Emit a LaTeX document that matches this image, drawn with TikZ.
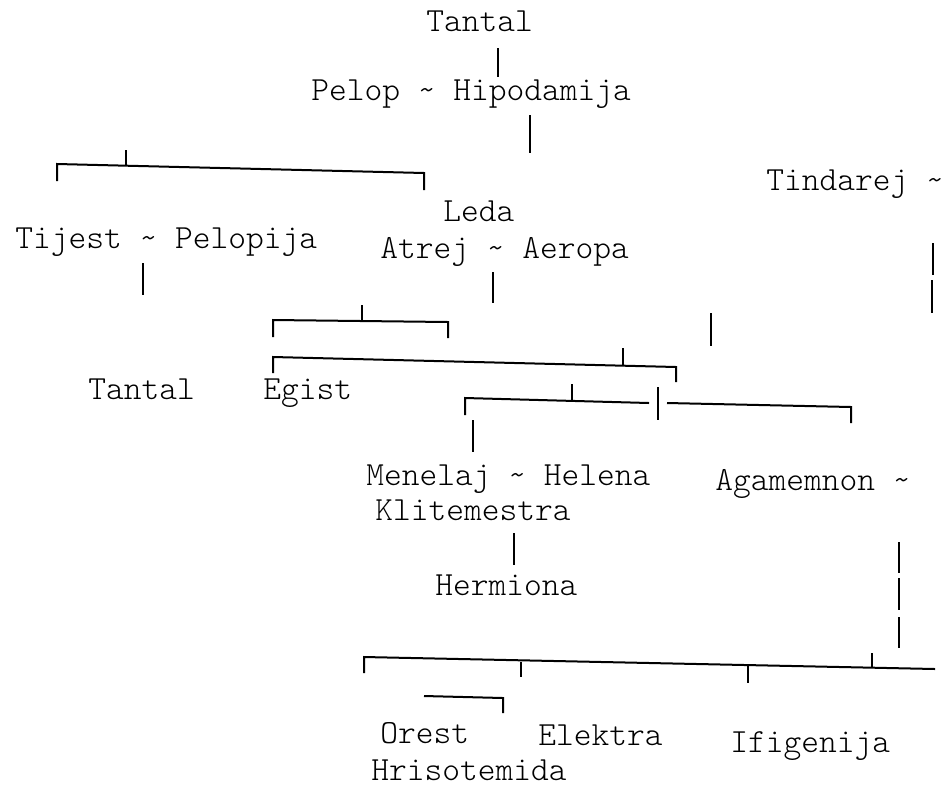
\documentclass[tikz,border=0pt]{standalone}
\usepackage{fontspec}
\setmonofont{lmmonolt10-regular.otf}
\begin{document}
\begin{tikzpicture}[x=0.5pt,y=-0.5pt,
  person/.style={anchor=base west,inner sep=0pt,font=\ttfamily\fontsize{16.9}{19}\selectfont},
  kin/.style={line width=1pt},
  thinkin/.style={line width=0.6pt}]
\useasboundingbox (0,0) rectangle (945,787);
% names
\node[person] (tantal) at (426,32) {Tantal};
\node[person] (pelop) at (311,100) {Pelop \textasciitilde{} Hipodamija};
\node[person] (tindarej) at (766,190) {Tindarej \textasciitilde};
\node[person] (leda) at (443,221) {Leda};
\node[person] (tijest) at (15,248) {Tijest \textasciitilde{} Pelopija};
\node[person] (atrej) at (380,258) {Atrej \textasciitilde{} Aeropa};
\node[person] (tantalml) at (88,399) {Tantal};
\node[person] (egist) at (263,399) {Egist};
\node[person] (menelaj) at (366,485) {Menelaj \textasciitilde{} Helena};
\node[person] (agamemnon) at (715,490) {Agamemnon \textasciitilde};
\node[person] (klitemestra) at (375,520) {Klitemestra};
\node[person] (hermiona) at (435,595) {Hermiona};
\node[person] (orest) at (380,743) {Orest};
\node[person] (elektra) at (538,745) {Elektra};
\node[person] (ifigenija) at (730,752) {Ifigenija};
\node[person] (hrisotemida) at (371,780) {Hrisotemida};
% lines
\draw[kin] (498,48) -- (498,77);
\draw[kin] (530,115) -- (530,153);
\draw[kin] (126,150) -- (126,165);
\draw[kin] (57,181) -- (57,164) -- (424,173) -- (424,190);
\draw[kin] (143,263) -- (143,295);
\draw[kin] (493,272) -- (493,303);
\draw[kin] (933,243) -- (933,275);
\draw[kin] (932,280) -- (932,313);
\draw[kin] (711,313) -- (711,346);
\draw[kin] (362,305) -- (362,320);
\draw[kin] (273,337) -- (273,320) -- (448,322) -- (448,338);
\draw[kin] (623,348) -- (623,365);
\draw[kin] (273,373) -- (273,357) -- (676,367) -- (676,382);
\draw[kin] (572,384) -- (572,402);
\draw[kin] (465,415) -- (465,398) -- (649,403);
\draw[kin] (658,387) -- (658,420);
\draw[kin] (667,403) -- (851,407) -- (851,423);
\draw[kin] (473,420) -- (473,452);
\draw[kin] (514,533) -- (514,565);
\draw[kin] (899,542) -- (899,573);
\draw[kin] (899,578) -- (899,610);
\draw[kin] (899,617) -- (899,648);
\draw[kin] (364,673) -- (364,657) -- (935,669);
\draw[kin] (872,653) -- (872,668);
\draw[thinkin] (521,662) -- (521,677);
\draw[thinkin] (748,666) -- (748,683);
\draw[kin] (424,696) -- (503,698) -- (503,713);
\end{tikzpicture}
\end{document}
